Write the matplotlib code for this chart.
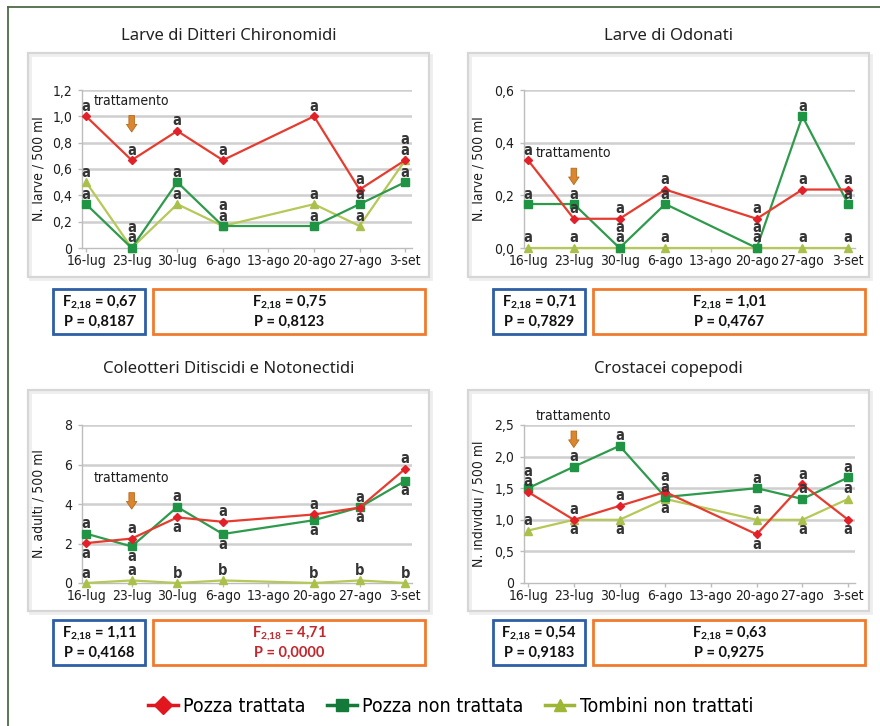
import matplotlib
matplotlib.use("Agg")
import matplotlib.pyplot as plt
from matplotlib.lines import Line2D
from matplotlib.patches import Rectangle
from matplotlib.font_manager import FontProperties

W, H = 880, 726

dates = ['16-lug', '23-lug', '30-lug', '6-ago', '13-ago', '20-ago', '27-ago', '3-set']
# no sampling on 13-ago: the lines just join across it
sampled = [0, 1, 2, 3, 5, 6, 7]

names = ['Pozza trattata', 'Pozza non trattata', 'Tombini non trattati']

# Larve di Ditteri Chironomidi (N. larve / 500 ml)
chiro_tratt = [1.0, 0.667, 0.889, 0.667, 1.0, 0.444, 0.667]
chiro_non = [0.333, 0.0, 0.5, 0.167, 0.167, 0.333, 0.5]
chiro_tomb = [0.5, 0.0, 0.333, 0.167, 0.333, 0.167, 0.667]
chiro_let = [['a'] * 7, ['a'] * 7, ['a'] * 7]
chiro_side = [[1] * 7, [1] * 7, [1] * 7]

# Larve di Odonati (N. larve / 500 ml)
odo_tratt = [0.333, 0.111, 0.111, 0.222, 0.111, 0.222, 0.222]
odo_non = [0.167, 0.167, 0.0, 0.167, 0.0, 0.5, 0.167]
odo_tomb = [0.0, 0.0, 0.0, 0.0, 0.0, 0.0, 0.0]
odo_let = [['a'] * 7, ['a'] * 7, ['a'] * 7]
odo_side = [[1] * 7, [1] * 7, [1] * 7]

# Coleotteri Ditiscidi e Notonectidi (N. adulti / 500 ml)
cole_tratt = [2.02, 2.25, 3.32, 3.1, 3.47, 3.82, 5.78]
cole_non = [2.5, 1.85, 3.85, 2.48, 3.18, 3.83, 5.17]
cole_tomb = [0.0, 0.13, 0.0, 0.13, 0.0, 0.13, 0.0]
cole_let = [['a'] * 7, ['a'] * 7, ['a', 'a', 'b', 'b', 'b', 'b', 'b']]
cole_side = [[-1, 1, -1, 1, 1, 1, 1],
             [1, -1, 1, -1, -1, -1, -1],
             [1] * 7]

# Crostacei copepodi (N. individui / 500 ml)
cope_tratt = [1.44, 1.0, 1.22, 1.44, 0.77, 1.56, 1.0]
cope_non = [1.5, 1.84, 2.17, 1.36, 1.5, 1.33, 1.67]
cope_tomb = [0.83, 1.0, 1.0, 1.33, 1.0, 1.0, 1.33]
cope_let = [['a'] * 7, ['a'] * 7, ['a'] * 7]
cope_side = [[1, 1, 1, 1, -1, 1, -1],
             [1] * 7,
             [1, -1, -1, -1, 1, -1, 1]]

# two-way ANOVA results under each chart
f_left = [0.67, 0.71, 1.11, 0.54]
p_left = [0.8187, 0.7829, 0.4168, 0.9183]
f_right = [0.75, 1.01, 4.71, 0.63]
p_right = [0.8123, 0.4767, 0.0000, 0.9275]

titles = ['Larve di Ditteri Chironomidi', 'Larve di Odonati',
          'Coleotteri Ditiscidi e Notonectidi', 'Crostacei copepodi']
ylabels = ['N. larve / 500 ml', 'N. larve / 500 ml',
           'N. adulti / 500 ml', 'N. individui / 500 ml']
yticks = [[0, 0.2, 0.4, 0.6, 0.8, 1.0, 1.2],
          [0.0, 0.2, 0.4, 0.6],
          [0, 2, 4, 6, 8],
          [0, 0.5, 1.0, 1.5, 2.0, 2.5]]
ytick_labels = [['0', '0,2', '0,4', '0,6', '0,8', '1,0', '1,2'],
                ['0,0', '0,2', '0,4', '0,6'],
                ['0', '2', '4', '6', '8'],
                ['0', '0,5', '1,0', '1,5', '2,0', '2,5']]
arrow_tip = [0.86, 0.23, 3.6, 2.1]

panels = [
    ([chiro_tratt, chiro_non, chiro_tomb], chiro_let, chiro_side),
    ([odo_tratt, odo_non, odo_tomb], odo_let, odo_side),
    ([cole_tratt, cole_non, cole_tomb], cole_let, cole_side),
    ([cope_tratt, cope_non, cope_tomb], cope_let, cope_side),
]

line_colors = ['#e63c30', '#2f9a4c', '#b6c858']
mark_colors = ['#e2202a', '#1f9445', '#a9c04a']
markers = ['D', 's', '^']
msizes = [4.5, 5.5, 5.5]
legend_colors = ['#e1161f', '#137a3a', '#9db636']

# condensed DejaVu for the chart texts, Lato / Noto Sans for headings and boxes
plt.rcParams['font.family'] = ['DejaVu Sans']
plt.rcParams['font.stretch'] = 'condensed'
plt.rcParams['mathtext.fontset'] = 'custom'
plt.rcParams['mathtext.rm'] = 'Lato'
plt.rcParams['mathtext.bf'] = 'Lato:bold'

fig = plt.figure(figsize=(W / 100, H / 100), dpi=100)


def fx(x):
    return x / W


def fy(y):
    return 1 - y / H


def frac_rect(l, t, r, b):
    return [fx(l), fy(b), (r - l) / W, (b - t) / H]


# outer frame (top and left sides only)
fig.add_artist(Line2D([fx(8), 1], [fy(7), fy(7)], color='#4d6b47', lw=1.3))
fig.add_artist(Line2D([fx(8), fx(8)], [fy(7), 0], color='#4d6b47', lw=1.3))

cols = [(28, 429), (468, 869)]
rows = [(53, 277), (390, 611)]
axes_px = [(82, 90, 412, 248), (524, 90, 855, 248),
           (82, 425, 412, 583), (524, 425, 855, 583)]
title_y = [36, 36, 369, 369]
ylabel_x = [46, 485, 46, 485]
box_y = [(289, 334), (289, 334), (620, 665), (620, 665)]


def place_letters(ax, xs, series, letters, sides, gap=10.5, base=10):
    inv = ax.transData.inverted()
    for i, x in enumerate(xs):
        ups, downs = [], []
        for s in range(len(series)):
            y0 = ax.transData.transform((x, series[s][i]))[1]
            item = [y0 + sides[s][i] * base, letters[s][i]]
            (ups if sides[s][i] > 0 else downs).append(item)
        ups.sort(key=lambda t: t[0])
        downs.sort(key=lambda t: -t[0])
        for k in range(1, len(ups)):
            if ups[k][0] - ups[k - 1][0] < gap:
                ups[k][0] = ups[k - 1][0] + gap
        for k in range(1, len(downs)):
            if downs[k - 1][0] - downs[k][0] < gap:
                downs[k][0] = downs[k - 1][0] - gap
        for ypix, let in ups + downs:
            yd = inv.transform((0, ypix))[1]
            ax.text(x, yd, let, ha='center', va='center', fontsize=10.5,
                    fontweight='bold', color='#353535',
                    clip_on=False, zorder=5)


def fmt(v, nd):
    return f"{v:.{nd}f}".replace('.', ',')


for k, (series, letters, sides) in enumerate(panels):
    c0, c1 = cols[k % 2]
    r0, r1 = rows[k // 2]
    fig.add_artist(Rectangle((fx(c0 + 1.5), fy(r1 + 1.5)), (c1 - c0) / W, (r1 - r0) / H,
                             transform=fig.transFigure, fill=False,
                             ec='#eeeeee', lw=2.0))
    fig.add_artist(Rectangle((fx(c0), fy(r1)), (c1 - c0) / W, (r1 - r0) / H,
                             transform=fig.transFigure, fill=False,
                             ec='#d6d6d6', lw=1.6))
    fig.text(fx((c0 + c1) / 2), fy(title_y[k]), titles[k], ha='center',
             va='center', fontsize=12, color='#222222', family='Noto Sans',
             fontstretch='normal')

    ax = fig.add_axes(frac_rect(*axes_px[k]))
    ax.set_xlim(-0.09, 7.15)
    ax.set_ylim(yticks[k][0], yticks[k][-1])
    for sp in ['top', 'right']:
        ax.spines[sp].set_visible(False)
    for sp in ['left', 'bottom']:
        ax.spines[sp].set_color('#bdbdbd')
        ax.spines[sp].set_linewidth(1.0)
    ax.set_xticks(range(len(dates)))
    ax.set_xticklabels(dates)
    ax.set_yticks(yticks[k])
    ax.set_yticklabels(ytick_labels[k])
    ax.tick_params(axis='both', colors='#bdbdbd', labelcolor='#1e1e1e',
                   labelsize=10, length=3, width=1.0, pad=1.5)
    ax.tick_params(axis='y', pad=4)
    for yv in yticks[k][1:]:
        ax.axhline(yv, color='#cfcfcf', lw=1.8, zorder=0)
    ax.set_ylabel(ylabels[k], fontsize=10, color='#1e1e1e')
    ax.yaxis.set_label_coords((ylabel_x[k] - axes_px[k][0]) / (axes_px[k][2] - axes_px[k][0]), 0.5)

    for s in range(3):
        ax.plot(sampled, series[s], color=line_colors[s], lw=1.6,
                marker=markers[s], markersize=msizes[s],
                markerfacecolor=mark_colors[s], markeredgecolor=mark_colors[s],
                clip_on=False, zorder=3 - s * 0.1)

    place_letters(ax, sampled, series, letters, sides)

    # treatment arrow over 23-lug
    tip = ax.transData.transform((1, arrow_tip[k]))
    inv = ax.transData.inverted()
    tail = inv.transform((tip[0], tip[1] + 22))
    ax.annotate('', xy=(1, arrow_tip[k]), xytext=(1, tail[1]),
                arrowprops=dict(arrowstyle='simple,head_width=0.75,head_length=0.55,tail_width=0.4',
                                fc='#d9862e', ec='#b9681f', lw=0.6),
                annotation_clip=False, zorder=4)
    txt_y = inv.transform((tip[0], tip[1] + 34))[1]
    ax.text(1, txt_y, 'trattamento', ha='center', va='center', fontsize=10,
            color='#1e1e1e', clip_on=False)

    # ANOVA boxes
    bt, bb = box_y[k]
    xoff = 0 if k % 2 == 0 else 440
    bl = [(53 + xoff, 145 + xoff), (153 + xoff, 425 + xoff)]
    vals = [(f_left[k], p_left[k], '#2d5ea6'), (f_right[k], p_right[k], '#f07a2e')]
    for (l, r), (fv, pv, ec) in zip(bl, vals):
        fig.add_artist(Rectangle((fx(l), fy(bb)), (r - l) / W, (bb - bt) / H,
                                 transform=fig.transFigure, fill=False, ec=ec, lw=2.0))
        tc = '#c1272d' if pv < 0.05 else '#111111'
        cx = fx((l + r) / 2)
        fig.text(cx, fy(bt + 14), r'$\mathbf{F}_{\mathbf{2{,}18}}$' + ' = ' + fmt(fv, 2),
                 ha='center', va='center', fontsize=10.5, fontweight='bold',
                 color=tc, family='Lato', fontstretch='normal')
        fig.text(cx, fy(bt + 33), 'P = ' + fmt(pv, 4), ha='center', va='center',
                 fontsize=10.5, fontweight='bold', color=tc, family='Lato',
                 fontstretch='normal')

handles = [Line2D([], [], color=legend_colors[s], lw=2.5, marker=markers[s],
                  markersize=[9, 8, 9][s], markerfacecolor=legend_colors[s],
                  markeredgecolor=legend_colors[s]) for s in range(3)]
fig.legend(handles, names, loc='center', bbox_to_anchor=(fx(451), fy(706)),
           ncol=3, frameon=False, handlelength=1.5,
           handletextpad=0.3, columnspacing=1.1,
           prop=FontProperties(family='DejaVu Sans', stretch='condensed', size=14))

fig.savefig('out.png', dpi=100, facecolor='white')
